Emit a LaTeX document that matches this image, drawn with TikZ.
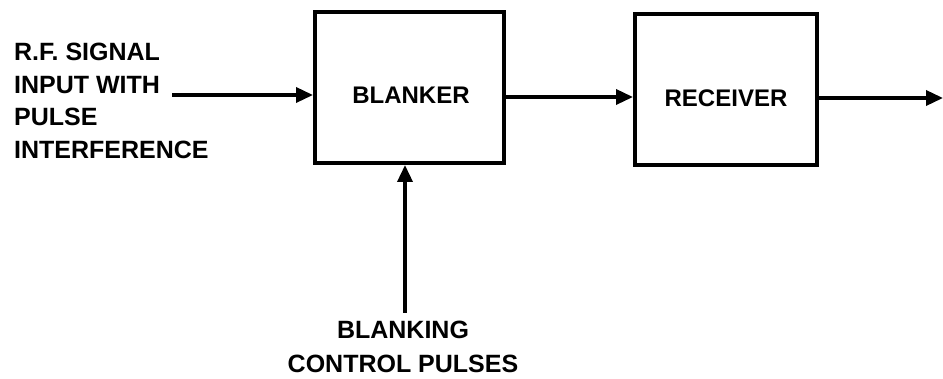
\documentclass[tikz,border=0pt]{standalone}
\usepackage{fontspec}
\setmainfont{Liberation Sans}
\usetikzlibrary{arrows.meta}
\begin{document}
\begin{tikzpicture}[x=1pt,y=-1pt,
  block/.style={draw,line width=4pt,inner sep=0pt},
  btext/.style={font=\fontsize{24}{24}\selectfont\bfseries,inner sep=0pt},
  link/.style={line width=3.5pt,-{Triangle[length=17pt,width=15pt]}},
  lbl/.style={inner sep=0pt,font=\fontsize{25}{32.5}\selectfont\bfseries}]
  \useasboundingbox[fill=white] (0,0) rectangle (943,379);
  % processing blocks
  \node[block,minimum width=189pt,minimum height=151pt] (blk) at (409.5,87.5) {};
  \node[block,minimum width=182pt,minimum height=151pt] (rcv) at (726,89.5) {};
  \node[btext] (blkT) at (411,95) {BLANKER};
  \node[btext] (rcvT) at (726,98) {RECEIVER};
  % input label and its lead-in point
  \node[lbl,anchor=north west,align=left] (inp) at (14,43)
    {R.F. SIGNAL\\INPUT WITH\\PULSE\\INTERFERENCE};
  \coordinate (inS) at (172,95);
  % control pulse label
  \node[lbl,align=center,anchor=north,font=\fontsize{25}{34}\selectfont\bfseries] (ctl) at (403,321)
    {BLANKING\\CONTROL PULSES};
  \coordinate (ctlS) at (405,313);
  \coordinate (outE) at (943,98);
  % signal path
  \draw[link] (inS) -- (inS -| blk.west);
  \draw[link] (blk.east |- 0,97) -- (rcv.west |- 0,97);
  \draw[link] (rcv.east |- outE) -- (outE);
  \draw[link] (ctlS) -- (ctlS |- blk.south);
\end{tikzpicture}
\end{document}
